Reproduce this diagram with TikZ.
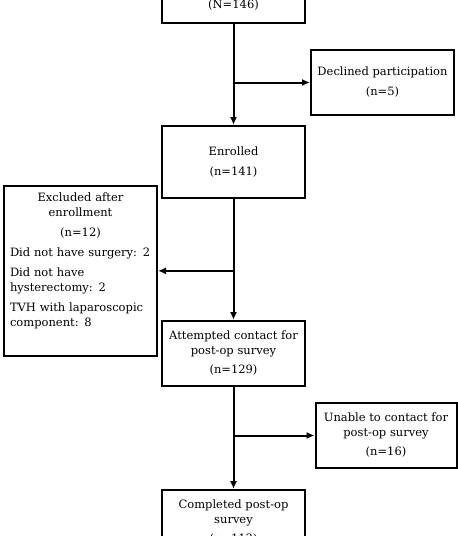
\documentclass[tikz,border=0pt]{standalone}
\usepackage{fontspec}
\setmainfont{DejaVu Serif}
\usetikzlibrary{arrows.meta,positioning}
\newcommand{\boxfont}{\fontsize{11.5}{15}\selectfont\parindent=0pt}

\begin{document}
\begin{tikzpicture}[x=1pt,y=-1pt,line width=2pt,>={Latex[length=8pt,width=7pt]},
 box/.style={draw,fill=white,align=center,minimum width=143pt,inner sep=4pt,font=\boxfont},
 side/.style={box,minimum width=143pt,minimum height=65pt}]
\useasboundingbox (0,0) rectangle (458,536);
\clip (0,0) rectangle (458,536);
\node[box,anchor=south,text height=40pt,text depth=11pt] (scr) at (233.5,24) {(N=146)};
\node[box,below=101pt of scr,minimum height=72pt] (enr) {Enrolled\\[5pt](n=141)};
\node[box,below=121pt of enr,minimum height=65pt] (att) {Attempted contact for\\post-op survey\\[4pt](n=129)};
\node[box,below=102pt of att,minimum height=65pt] (cmp) {Completed post-op\\survey\\[4pt](n=113)};
\node[side,below right=25pt and 4pt of scr.south east] (dec) {Declined participation\\[5pt](n=5)};
\node[side,minimum width=141pt,below right=15pt and 8.5pt of att.south east] (una) {Unable to contact for\\post-op survey\\[4pt](n=16)};
\node[box,text width=141pt,inner xsep=6pt,inner ysep=7pt,align=left,anchor=north west] (exc) at (3,185)
 {{\centering Excluded after\\enrollment\\[5pt](n=12)\par}
 \vspace{5pt}Did not have surgery: 2\par
 \vspace{5pt}Did not have\\hysterectomy: 2\par
 \vspace{5pt}TVH with laparoscopic\\component: 8\rule[-22pt]{0pt}{0pt}};
\draw[->,line width=2pt] (scr) -- (enr);
\draw[->,line width=2pt] (enr) -- (att);
\draw[->,line width=2pt] (att) -- (cmp);
\draw[->,line width=2pt] (scr.south |- dec.west) -- (dec);
\draw[->,line width=2pt] (enr.south |- exc.east) -- (exc);
\draw[->,line width=2pt] (att.south |- una.west) -- (una);
\end{tikzpicture}
\end{document}
